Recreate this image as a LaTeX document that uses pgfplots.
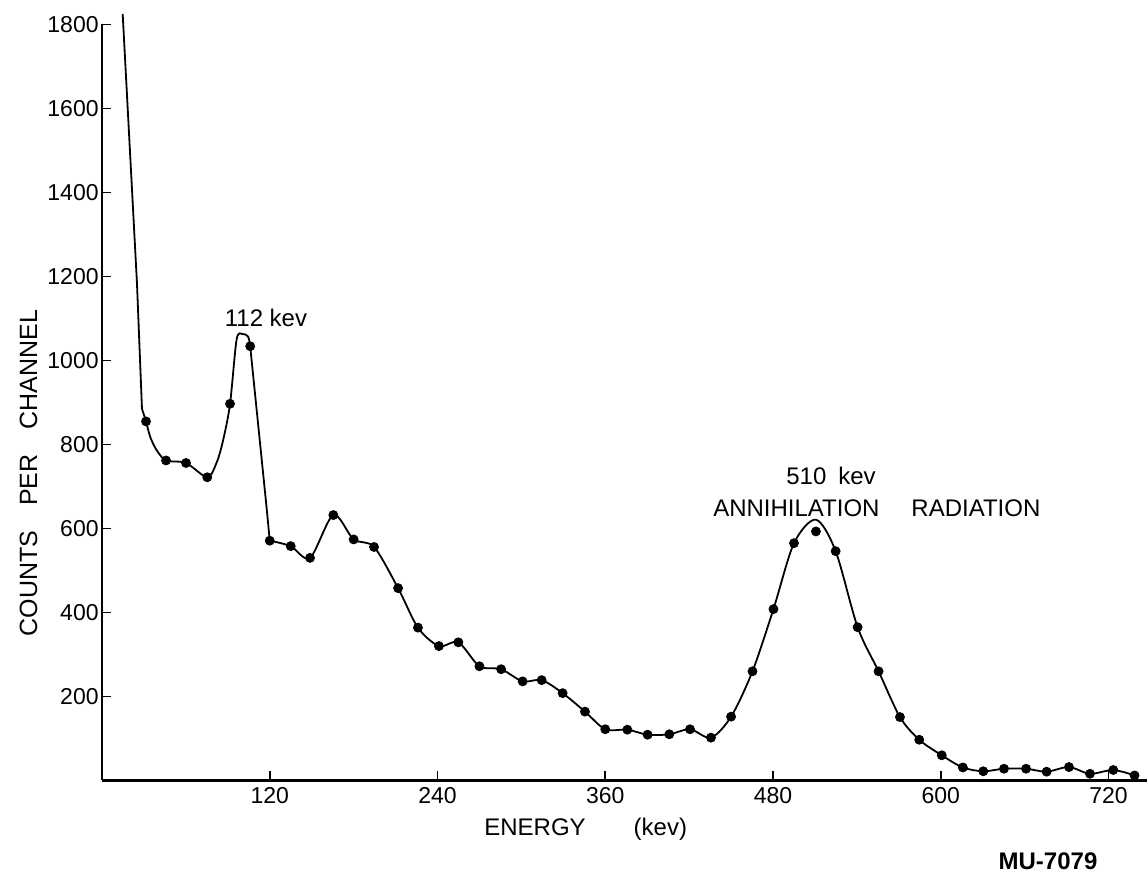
\documentclass[border=0pt]{standalone}
\usepackage{fontspec}
\setmainfont{Liberation Sans}
\usepackage{pgfplots}
\pgfplotsset{compat=1.18}
\usepackage{pgfplotstable}

\pgfplotstableread{
x y
31.5 855
45.8 762
60.1 756
75.3 722
91.6 897
106.0 1034
120.0 571
135.0 558
148.8 530
165.5 632
180.0 574
194.6 556
211.8 458
226.0 364
241.0 320
254.9 329
270.0 272
285.5 265
300.9 236
314.5 239
329.5 208
345.5 164
360.0 122
375.8 121
390.3 109
405.8 110
420.6 122
435.6 102
450.0 152
465.3 260
480.3 408
495.0 565
510.7 593
524.8 546
540.5 365
555.5 260
570.8 151
584.6 97
600.7 60
615.8 31
630.4 22
645.2 28
661.0 28
675.7 21
691.7 32
706.7 16
723.4 25
738.6 12
}\points

\pgfplotstableread{
x y
120.0 571
135.0 558
148.8 530
165.5 632
180.0 574
194.6 556
211.8 458
226.0 364
241.0 320
254.9 329
270.0 272
285.5 265
300.9 236
314.5 239
329.5 208
345.5 164
360.0 122
375.8 121
390.3 109
405.8 110
420.6 122
435.6 102
450.0 152
465.3 260
480.3 408
495.0 565
510.7 621
524.8 546
540.5 365
555.5 260
570.8 151
584.6 97
600.7 60
615.8 31
630.4 22
645.2 28
661.0 28
675.7 21
691.7 32
706.7 16
723.4 25
738.6 12
}\curvetail

\begin{document}
\begin{tikzpicture}
\useasboundingbox (-51pt,-46.25pt) rectangle (523pt,390.25pt);
\begin{axis}[
  scale only axis,
  width=522.5pt, height=378pt,
  xmin=0, xmax=747.5, ymin=0, ymax=1800,
  enlargelimits=false,
  clip=false,
  axis x line*=bottom, axis y line*=left,
  xtick pos=bottom, ytick pos=left,
  xtick={120,240,360,480,600,720},
  ytick={200,400,600,800,1000,1200,1400,1600,1800},
  tick align=inside,
  major tick length=4.5pt,
  tick style={black, line width=0.9pt},
  axis line style={black, line width=1.2pt},
  /pgf/number format/assume math mode=true,
  /pgf/number format/1000 sep={},
  ticklabel style={font=\fontsize{11.5}{13}\selectfont},
  yticklabel style={inner xsep=1.5pt},
]
% steep initial part of the drawn curve
\addplot[black, line width=0.9pt, sharp plot] coordinates {(14.8,1825) (25,1185) (28.6,885)};
\addplot[black, line width=0.9pt, smooth] coordinates {
  (28.6,885) (31.5,855) (34.5,818) (39,787) (45.8,762) (60.1,756) (75.3,722)
  (82,757) (86.7,811) (91.6,897) (96.3,1050) (100.5,1063) (104.5,1057) (106,1034)};
\addplot[black, line width=0.9pt, sharp plot] coordinates {(106,1034) (117.7,651) (120,571)};
\addplot[black, line width=0.9pt, smooth] table[x=x,y=y] {\curvetail};
% measured points
\addplot[only marks, mark=*, mark size=2.25pt, black] table[x=x,y=y] {\points};

\node[font=\fontsize{12}{14}\selectfont] at (axis cs:117.3,1102) {112 kev};
\node[font=\fontsize{12}{14}\selectfont] at (axis cs:521.5,725) {510\hspace{0.5em}kev};
\node[font=\fontsize{12}{14}\selectfont, anchor=west, inner xsep=0pt] at (axis cs:437,649) {ANNIHILATION\hspace{1.33em}RADIATION};
\node[font=\fontsize{12}{14}\selectfont] at (axis cs:346,-115.5) {ENERGY\hspace{2em}(kev)};
\node[font=\fontsize{12.5}{14}\selectfont, rotate=90] at (axis cs:-52.6,732) {COUNTS\hspace{1em}PER\hspace{1em}CHANNEL};
\node[font=\fontsize{12}{14}\selectfont\bfseries] at (axis cs:676.7,-192.9) {MU-7079};
\end{axis}
\end{tikzpicture}
\end{document}
